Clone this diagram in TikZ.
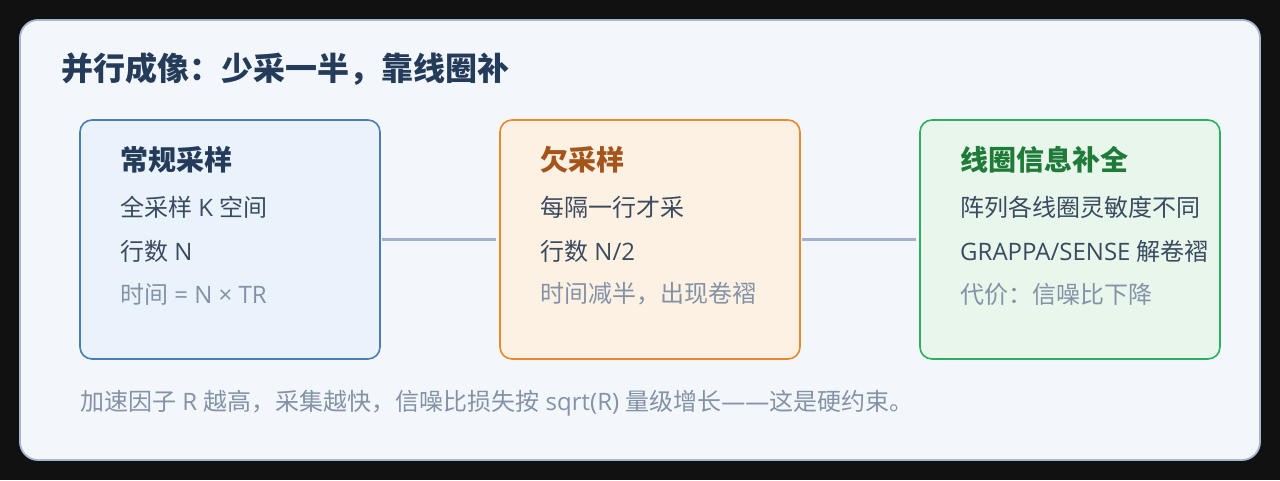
\documentclass[tikz,border=0pt]{standalone}
\usepackage{fontspec}
\setmainfont{Noto Sans CJK SC}
\newfontfamily\lat{Open Sans}
\definecolor{bgdark}{HTML}{111111}
\definecolor{panelfill}{HTML}{F3F7FC}
\definecolor{panelline}{HTML}{A3B8CF}
\definecolor{titlecol}{HTML}{243B5A}
\definecolor{bodycol}{HTML}{3A4A60}
\definecolor{mutedcol}{HTML}{8392A6}
\definecolor{linkcol}{HTML}{9FB3CC}
\definecolor{blueline}{HTML}{4A7DB3}
\definecolor{bluefill}{HTML}{EAF2FB}
\definecolor{orangeline}{HTML}{E8892B}
\definecolor{orangefill}{HTML}{FDF1E3}
\definecolor{orangetext}{HTML}{A5551C}
\definecolor{greenline}{HTML}{2EAE5F}
\definecolor{greenfill}{HTML}{E9F6EC}
\definecolor{greentext}{HTML}{1E7B38}
\tikzset{
  card/.style={rounded corners=12pt, line width=1.6pt, minimum width=300pt, minimum height=239pt, inner sep=0pt},
  cardtitle/.style={anchor=west, inner sep=0pt, font=\fontsize{28}{28}\selectfont\bfseries},
  cardline/.style={anchor=west, inner sep=0pt, text=bodycol, font=\fontsize{24}{24}\selectfont},
  cardmuted/.style={anchor=west, inner sep=0pt, text=mutedcol, font=\fontsize{24}{24}\selectfont},
  link/.style={draw=linkcol, line width=3.2pt, shorten <=1.5pt, shorten >=3pt}
}
\begin{document}
\begin{tikzpicture}[x=1pt,y=-1pt]
\fill[bgdark] (0,0) rectangle (1280,480);
\useasboundingbox (0,0) rectangle (1280,480);
\draw[fill=panelfill, draw=panelline, line width=1.8pt, rounded corners=18pt] (20,20) rectangle (1260,460);
\node[anchor=west, inner sep=0pt, text=titlecol, font=\fontsize{32}{32}\selectfont\bfseries] (title) at (61,69) {并行成像：少采一半，靠线圈补};

\node[card, draw=blueline, fill=bluefill] (b1) at (230,239.5) {};
\node[card, draw=orangeline, fill=orangefill] (b2) at (650,239.5) {};
\node[card, draw=greenline, fill=greenfill] (b3) at (1070,239.5) {};

\draw[link] (b1.east) -- (b2.west);
\draw[link] (b2.east) -- (b3.west);

\node[cardtitle, text=titlecol] (t1) at (120,160) {常规采样};
\node[cardline] (t1a) at (120,207) {全采样{\lat\ K }空间};
\node[cardline] (t1b) at (120,251) {行数{\lat\ N}};
\node[cardmuted] (t1c) at (120,294) {时间{\lat\ = N × TR}};

\node[cardtitle, text=orangetext] (t2) at (540,160) {欠采样};
\node[cardline] (t2a) at (540,207) {每隔一行才采};
\node[cardline] (t2b) at (540,251) {行数{\lat\ N/2}};
\node[cardmuted] (t2c) at (540,294) {时间减半，出现卷褶};

\node[cardtitle, text=greentext] (t3) at (960,160) {线圈信息补全};
\node[cardline] (t3a) at (960,207) {阵列各线圈灵敏度不同};
\node[cardline] (t3b) at (960,251) {{\lat GRAPPA/SENSE }解卷褶};
\node[cardmuted] (t3c) at (960,294) {代价：信噪比下降};

\node[anchor=west, inner sep=0pt, text=mutedcol, font=\fontsize{24}{24}\selectfont] (foot) at (80,403) {加速因子{\lat\ R }越高，采集越快，信噪比损失按{\lat\ sqrt(R) }量级增长{\lat ——}这是硬约束。};
\end{tikzpicture}
\end{document}
